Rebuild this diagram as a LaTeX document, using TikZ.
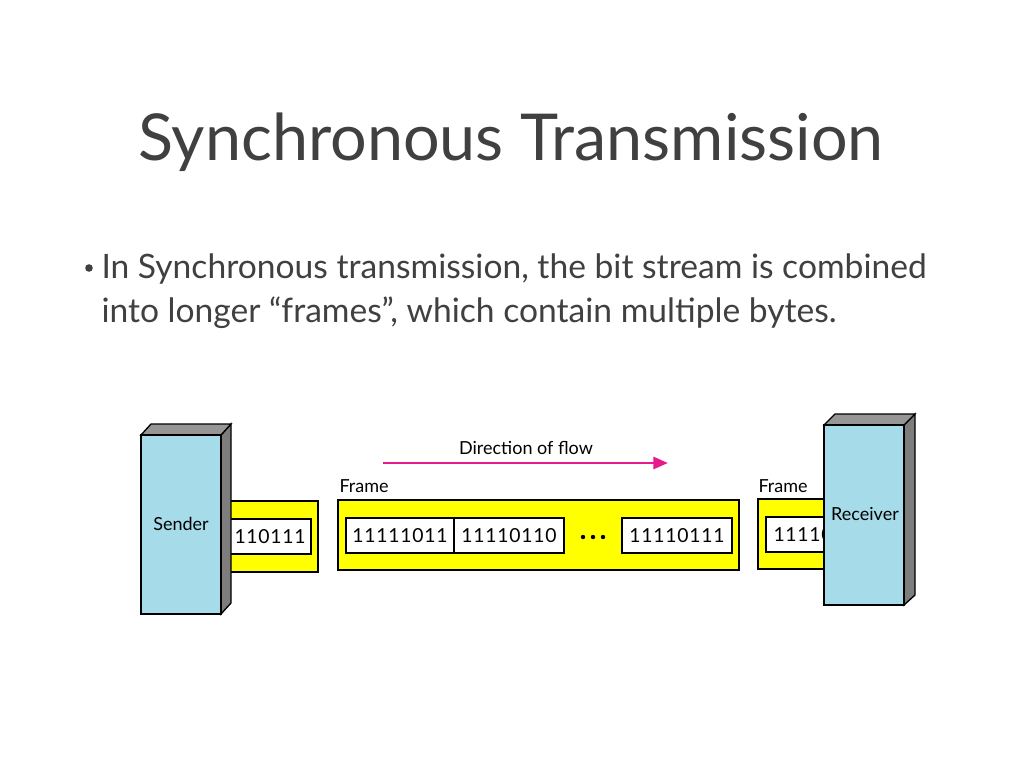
\documentclass[tikz,border=0pt]{standalone}
\usepackage{fontspec}
\setmainfont{Lato}
\usepackage{tikz}
\usetikzlibrary{arrows.meta}
\definecolor{mytext}{RGB}{64,64,64}
\definecolor{myblue}{RGB}{166,220,233}
\definecolor{myside}{RGB}{125,125,125}
\definecolor{mytop}{RGB}{150,150,150}
\definecolor{mypink}{RGB}{232,25,140}
\definecolor{myyellow}{RGB}{255,255,0}
\tikzset{every picture/.style={line width=0.75pt}}
\tikzset{
  framebg/.style={draw=black, fill=myyellow, line width=1pt},
  bytebg/.style={draw=black, fill=white, line width=1pt},
  facefront/.style={draw=black, fill=myblue, line width=1pt},
  faceside/.style={draw=black, fill=myside, line width=1pt},
  facetop/.style={draw=black, fill=mytop, line width=1pt},
  smalltext/.style={inner sep=0pt, font=\fontsize{13.5}{16}\selectfont},
  bytetext/.style={inner sep=0pt, font=\fontsize{14.5}{17}\selectfont\addfontfeatures{LetterSpace=4}},
}

\begin{document}
\begin{tikzpicture}[x=0.75pt,y=0.75pt,yscale=-1]
\useasboundingbox (0,0) rectangle (1024,768);

% Title
\node [anchor=base, inner sep=0pt, text=mytext, font=\fontsize{48.5}{56}\selectfont] (title) at (511,160) {Synchronous Transmission};
% Bullet
\fill [mytext] (89,268) circle (3.8);
\node [anchor=base west, inner sep=0pt, text=mytext, font=\fontsize{25.2}{30}\selectfont] (lineone) at (101,278) {In Synchronous transmission, the bit stream is combined};
\node [anchor=base west, inner sep=0pt, text=mytext, font=\fontsize{25.2}{30}\selectfont] (linetwo) at (101,322) {into longer “frames”, which contain multiple bytes.};

%Shape: sender frame
\draw [framebg] (221,501) rectangle (318,572);
\draw [bytebg] (225,519) rectangle (311,554);
\node [bytetext, anchor=west] (sbyte) at (234,537) {110111};

%Shape: sender box
\draw [faceside] (221,435) -- (231,424) -- (231,603) -- (221,614) -- cycle;
\draw [facetop] (141,435) -- (151,424) -- (231,424) -- (221,435) -- cycle;
\draw [facefront] (141,435) rectangle (221,614);
\node [smalltext] (sender) at (181,524) {Sender};

%Shape: main frame
\node [smalltext, anchor=west] (frameone) at (339,486) {Frame};
\draw [framebg] (338,500) rectangle (739,570);
\draw [bytebg] (346,518) rectangle (454,553);
\draw [bytebg] (454,518) rectangle (564,553);
\draw [bytebg] (622,518) rectangle (732,553);
\node [bytetext] (byteone) at (400,536) {11111011};
\node [bytetext] (bytetwo) at (509,536) {11110110};
\node [bytetext] (bytelast) at (677,536) {11110111};
\foreach \dx in {-10,0,10}
  \fill (593+\dx,537) circle (2.2);

% Direction of flow
\node [smalltext] (flow) at (526,448) {Direction of flow};
\coordinate (flowstart) at (383,463);
\coordinate (flowend) at (668,463);
\draw [mypink, line width=2.2pt, -{Triangle[length=11pt,width=9pt]}] (flowstart) -- (flowend);

%Shape: receiver frame
\node [smalltext, anchor=west] (frametwo) at (758,486) {Frame};
\draw [framebg] (758,499) rectangle (840,569);
\draw [bytebg] (766,517) rectangle (840,552);
\node [bytetext, anchor=west] (rbyte) at (773,535) {11110111};

%Shape: receiver box
\draw [faceside] (904,425) -- (915,414) -- (915,595) -- (904,605) -- cycle;
\draw [facetop] (824,425) -- (835,414) -- (915,414) -- (904,425) -- cycle;
\draw [facefront] (824,425) rectangle (904,605);
\node [smalltext] (receiver) at (865,514) {Receiver};

\end{tikzpicture}
\end{document}
